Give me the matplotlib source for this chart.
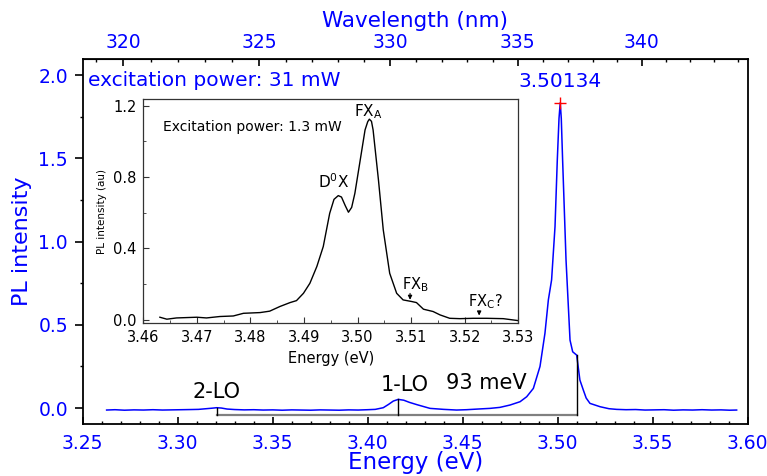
import numpy as np
import matplotlib
matplotlib.use('Agg')
import matplotlib.pyplot as plt
from matplotlib.ticker import MultipleLocator, FixedLocator

# main spectrum, 31 mW excitation
energy = [3.2626, 3.267, 3.272, 3.277, 3.282, 3.287, 3.292, 3.297, 3.302, 3.307,
          3.311, 3.315, 3.318, 3.3205, 3.323, 3.326, 3.33, 3.335, 3.34, 3.345,
          3.35, 3.355, 3.36, 3.365, 3.37, 3.375, 3.38, 3.385, 3.39, 3.395,
          3.40, 3.404, 3.4082, 3.411, 3.4135, 3.4161, 3.419, 3.422, 3.426, 3.4328,
          3.44, 3.4468, 3.452, 3.458, 3.4644, 3.4696, 3.4749, 3.4802, 3.4837, 3.4872,
          3.4907, 3.4933, 3.4951, 3.4968, 3.4986, 3.4998, 3.5007, 3.50134, 3.5019, 3.5026,
          3.5044, 3.5065, 3.5079, 3.5100, 3.5117, 3.5135, 3.515, 3.517, 3.5223, 3.527,
          3.531, 3.536, 3.541, 3.546, 3.551, 3.556, 3.561, 3.566, 3.571, 3.576,
          3.581, 3.586, 3.5905, 3.5942]
pl = [-0.012, -0.010, -0.013, -0.011, -0.012, -0.010, -0.012, -0.011, -0.010, -0.009,
      -0.008, -0.004, -0.001, 0.002, 0.000, -0.006, -0.009, -0.011, -0.010, -0.012,
      -0.011, -0.013, -0.011, -0.012, -0.013, -0.011, -0.012, -0.013, -0.011, -0.012,
      -0.010, -0.008, 0.002, 0.022, 0.042, 0.052, 0.047, 0.034, 0.020, -0.002,
      -0.008, -0.012, -0.010, -0.006, -0.002, 0.004, 0.018, 0.038, 0.068, 0.118,
      0.250, 0.449, 0.650, 0.770, 1.090, 1.490, 1.740, 1.834, 1.740, 1.490,
      0.889, 0.408, 0.338, 0.318, 0.168, 0.108, 0.060, 0.028, 0.008, -0.004,
      -0.008, -0.010, -0.009, -0.012, -0.011, -0.010, -0.013, -0.011, -0.012, -0.010,
      -0.012, -0.011, -0.013, -0.012]

# inset spectrum, 1.3 mW excitation
energy_in = [3.4631, 3.4644, 3.4662, 3.4681, 3.4700, 3.4718, 3.4743, 3.4768, 3.4787, 3.4818,
             3.4836, 3.4855, 3.4874, 3.4886, 3.4899, 3.4911, 3.4924, 3.4936, 3.4948, 3.4956,
             3.4964, 3.4970, 3.4977, 3.4983, 3.4989, 3.4995, 3.5004, 3.5014, 3.5019, 3.5022,
             3.5026, 3.5029, 3.5039, 3.5048, 3.5060, 3.5073, 3.5085, 3.5101, 3.5110, 3.5123,
             3.5141, 3.5154, 3.5172, 3.5191, 3.5216, 3.5241, 3.5272, 3.5300]
pl_in = [0.015, 0.004, 0.011, 0.013, 0.015, 0.011, 0.019, 0.022, 0.037, 0.041,
         0.049, 0.075, 0.097, 0.108, 0.149, 0.205, 0.299, 0.411, 0.597, 0.675,
         0.696, 0.688, 0.640, 0.603, 0.630, 0.709, 0.877, 1.064, 1.110, 1.124,
         1.112, 1.064, 0.784, 0.504, 0.261, 0.149, 0.112, 0.103, 0.097, 0.060,
         0.047, 0.028, 0.009, 0.007, 0.009, 0.009, 0.007, -0.004]

peak_e, peak_i = 3.50134, 1.834
lo_e = [3.3205, 3.4161, 3.5100]   # 2-LO, 1-LO, zero-phonon marker
lo_top = [0.002, 0.052, 0.318]
lo_base = -0.042

top_major = [320, 325, 330, 335, 340]
top_minor = list(range(319, 345))

# top axis: wavelength scale as drawn in the original
A, B = 7.908, 1483.7
def e2nm(e):
    return B / (A - np.asarray(e, dtype=float))
def nm2e(l):
    return A - B / np.asarray(l, dtype=float)

blue = '#0000ff'

fig = plt.figure(figsize=(7.67, 4.76), dpi=100)
ax = fig.add_axes([0.1078, 0.1092, 0.8670, 0.7679])

ax.plot(energy, pl, color=blue, lw=1.1)
ax.plot(peak_e, peak_i, '+', color='red', ms=8, mew=1)

ax.plot([lo_e[0], lo_e[2]], [lo_base, lo_base], color='#808080', lw=1.6)
for e, t in zip(lo_e, lo_top):
    ax.plot([e, e], [lo_base, t], color='k', lw=1.0)

ax.set_xlim(3.25, 3.60)
ax.set_ylim(-0.096, 2.10)
ax.xaxis.set_major_locator(MultipleLocator(0.05))
ax.xaxis.set_minor_locator(MultipleLocator(0.01))
ax.yaxis.set_major_locator(MultipleLocator(0.5))
ax.yaxis.set_minor_locator(MultipleLocator(0.25))
ax.xaxis.set_major_formatter(plt.FormatStrFormatter('%.2f'))
ax.yaxis.set_major_formatter(plt.FormatStrFormatter('%.1f'))

ax.tick_params(axis='x', which='major', direction='in', length=5, width=1.2,
               labelsize=13.5, labelcolor=blue, pad=7)
ax.tick_params(axis='x', which='minor', direction='in', length=2.5, width=1.0)
ax.tick_params(axis='y', which='major', direction='out', length=5.5, width=1.2,
               labelsize=13.5, labelcolor=blue, pad=5)
ax.tick_params(axis='y', which='minor', direction='out', length=2.5, width=1.0)
for s in ax.spines.values():
    s.set_linewidth(1.3)

ax.set_xlabel('Energy (eV)', color=blue, fontsize=16.5, labelpad=-1)
ax.set_ylabel('PL intensity', color=blue, fontsize=16, labelpad=5)

top = ax.secondary_xaxis('top', functions=(e2nm, nm2e))
top.xaxis.set_major_locator(FixedLocator(top_major))
top.xaxis.set_minor_locator(FixedLocator(top_minor))
top.xaxis.set_major_formatter(plt.FormatStrFormatter('%d'))
top.tick_params(axis='x', which='major', direction='in', length=5, width=1.2,
                labelsize=13.5, labelcolor=blue, pad=5)
top.tick_params(axis='x', which='minor', direction='in', length=2.5, width=1.0)
top.set_xlabel('Wavelength (nm)', color=blue, fontsize=15.5, labelpad=4)

ax.text(3.2529, 1.97, 'excitation power: 31 mW', color=blue, fontsize=14.5,
        ha='left', va='center')
ax.text(peak_e, 1.96, '3.50134', color=blue, fontsize=14.5, ha='center', va='center')
ax.text(3.3202, 0.094, '2-LO', fontsize=15, ha='center', va='center')
ax.text(3.4197, 0.138, '1-LO', fontsize=15, ha='center', va='center')
ax.text(3.4624, 0.150, '93 meV', fontsize=15, ha='center', va='center')

# inset
axi = fig.add_axes([0.1868, 0.3208, 0.4889, 0.4712])
axi.plot(energy_in, pl_in, color='k', lw=1.0)
axi.set_xlim(3.46, 3.53)
axi.set_ylim(-0.019, 1.237)
axi.xaxis.set_major_locator(MultipleLocator(0.01))
axi.xaxis.set_minor_locator(MultipleLocator(0.005))
axi.yaxis.set_major_locator(MultipleLocator(0.4))
axi.yaxis.set_minor_locator(MultipleLocator(0.2))
axi.xaxis.set_major_formatter(plt.FormatStrFormatter('%.2f'))
axi.yaxis.set_major_formatter(plt.FormatStrFormatter('%.1f'))
axi.tick_params(which='both', direction='in', top=False, right=False,
                labelsize=10.5, color='#333333')
axi.tick_params(which='major', length=4, pad=5)
axi.tick_params(which='minor', length=2)
for s in axi.spines.values():
    s.set_linewidth(0.9)
    s.set_color('#333333')
axi.set_xlabel('Energy (eV)', fontsize=10.5, labelpad=4)
axi.set_ylabel('PL intensity (au)', fontsize=7.5, labelpad=4)

axi.text(3.4637, 1.082, 'Excitation power: 1.3 mW', fontsize=10, ha='left', va='center')
axi.text(3.5020, 1.166, r'FX$_\mathrm{A}$', fontsize=11, ha='center', va='center')
axi.text(3.4955, 0.775, r'D$^0$X', fontsize=11, ha='center', va='center')
axi.text(3.5108, 0.196, r'FX$_\mathrm{B}$', fontsize=10.5, ha='center', va='center')
axi.text(3.5238, 0.103, r'FX$_\mathrm{C}$?', fontsize=10.5, ha='center', va='center')
axi.annotate('', xy=(3.5098, 0.097), xytext=(3.5098, 0.164),
             arrowprops=dict(arrowstyle='-|>', lw=0.8, color='k', mutation_scale=6))
axi.annotate('', xy=(3.5227, 0.009), xytext=(3.5227, 0.065),
             arrowprops=dict(arrowstyle='-|>', lw=0.8, color='k', mutation_scale=6))

fig.savefig('out.png', dpi=100)
